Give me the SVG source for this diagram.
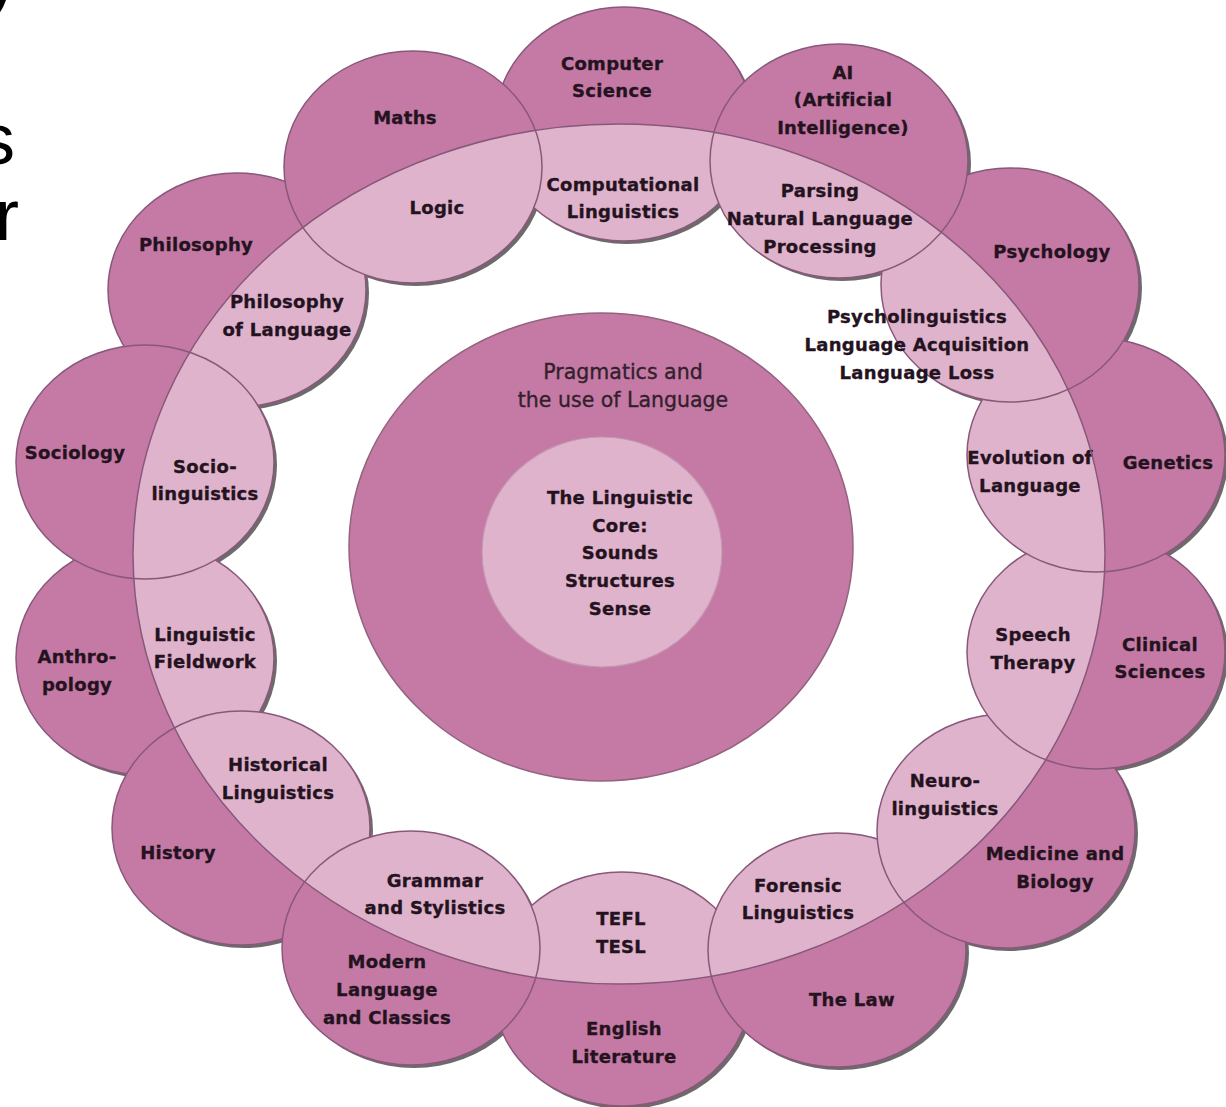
<svg xmlns="http://www.w3.org/2000/svg" xmlns:xlink="http://www.w3.org/1999/xlink" width="1226" height="1107" viewBox="0 0 1226 1107">
<style>
.dark{fill:#C47AA4}
.light{fill:#DFB3CB}
.edge{fill:none;stroke:#88587A;stroke-width:1.5}
.shadow{fill:#6e6a6c}
.lbl{font-family:"DejaVu Sans","Liberation Sans",sans-serif;font-weight:bold;font-size:18px;fill:#24131f;stroke:#24131f;stroke-width:0.35px;text-anchor:middle;letter-spacing:0.3px}
.prag{font-family:"DejaVu Sans","Liberation Sans",sans-serif;font-weight:normal;font-size:20.5px;fill:#33202c;stroke:#33202c;stroke-width:0.35px;text-anchor:middle}
.slide{font-family:"Liberation Sans","Open Sans",sans-serif;font-size:72px;fill:#000}
</style>
<defs>
<ellipse id="e-cs" cx="624" cy="124" rx="129" ry="117"/>
<ellipse id="e-ai" cx="839" cy="161" rx="129" ry="117"/>
<ellipse id="e-psy" cx="1010" cy="285" rx="129" ry="117"/>
<ellipse id="e-gen" cx="1096" cy="455" rx="129" ry="117"/>
<ellipse id="e-cli" cx="1096" cy="652" rx="129" ry="117"/>
<ellipse id="e-med" cx="1006" cy="831" rx="129" ry="117"/>
<ellipse id="e-law" cx="837" cy="950" rx="129" ry="117"/>
<ellipse id="e-eng" cx="622" cy="989" rx="129" ry="117"/>
<ellipse id="e-mod" cx="411" cy="948" rx="129" ry="117"/>
<ellipse id="e-his" cx="241" cy="828" rx="129" ry="117"/>
<ellipse id="e-ant" cx="145" cy="658" rx="129" ry="117"/>
<ellipse id="e-soc" cx="145" cy="462" rx="129" ry="117"/>
<ellipse id="e-phi" cx="237" cy="290" rx="129" ry="117"/>
<ellipse id="e-mat" cx="413" cy="167" rx="129" ry="116"/>
<clipPath id="band"><ellipse cx="619" cy="554" rx="486" ry="430"/></clipPath>
<clipPath id="petals">
<use href="#e-cs"/><use href="#e-ai"/><use href="#e-psy"/><use href="#e-gen"/><use href="#e-cli"/><use href="#e-med"/><use href="#e-law"/><use href="#e-eng"/><use href="#e-mod"/><use href="#e-his"/><use href="#e-ant"/><use href="#e-soc"/><use href="#e-phi"/><use href="#e-mat"/>
</clipPath>
</defs>
<rect width="1226" height="1107" fill="#ffffff"/>
<g id="slide-text">
<text class="slide" x="-16" y="2">y</text>
<text class="slide" x="-21" y="164">s</text>
<text class="slide" x="-5" y="240">r</text>
</g>
<g id="shadows" transform="translate(3,3)">
<use href="#e-cs" class="shadow"/><use href="#e-ai" class="shadow"/><use href="#e-psy" class="shadow"/><use href="#e-gen" class="shadow"/><use href="#e-cli" class="shadow"/><use href="#e-med" class="shadow"/><use href="#e-law" class="shadow"/><use href="#e-eng" class="shadow"/><use href="#e-mod" class="shadow"/><use href="#e-his" class="shadow"/><use href="#e-ant" class="shadow"/><use href="#e-soc" class="shadow"/><use href="#e-phi" class="shadow"/><use href="#e-mat" class="shadow"/>
</g>
<g id="english">
<use href="#e-eng" class="dark"/><use href="#e-eng" class="light" clip-path="url(#band)"/><use href="#e-eng" class="edge"/>
<text class="lbl" x="621" y="925">TEFL</text><text class="lbl" x="621" y="953">TESL</text>
<text class="lbl" x="624" y="1035">English</text><text class="lbl" x="624" y="1063">Literature</text>
</g>
<g id="law">
<use href="#e-law" class="dark"/><use href="#e-law" class="light" clip-path="url(#band)"/><use href="#e-law" class="edge"/>
<text class="lbl" x="798" y="892">Forensic</text><text class="lbl" x="798" y="919">Linguistics</text>
<text class="lbl" x="852" y="1006">The Law</text>
</g>
<g id="medicine">
<use href="#e-med" class="dark"/><use href="#e-med" class="light" clip-path="url(#band)"/><use href="#e-med" class="edge"/>
<text class="lbl" x="945" y="787">Neuro-</text><text class="lbl" x="945" y="815">linguistics</text>
<text class="lbl" x="1055" y="860">Medicine and</text><text class="lbl" x="1055" y="888">Biology</text>
</g>
<g id="clinical">
<use href="#e-cli" class="dark"/><use href="#e-cli" class="light" clip-path="url(#band)"/><use href="#e-cli" class="edge"/>
<text class="lbl" x="1033" y="641">Speech</text><text class="lbl" x="1033" y="669">Therapy</text>
<text class="lbl" x="1160" y="651">Clinical</text><text class="lbl" x="1160" y="678">Sciences</text>
</g>
<g id="genetics">
<use href="#e-gen" class="dark"/><use href="#e-gen" class="light" clip-path="url(#band)"/><use href="#e-gen" class="edge"/>
<text class="lbl" x="1030" y="464">Evolution of</text><text class="lbl" x="1030" y="492">Language</text>
<text class="lbl" x="1168" y="469">Genetics</text>
</g>
<g id="psychology">
<use href="#e-psy" class="dark"/><use href="#e-psy" class="light" clip-path="url(#band)"/><use href="#e-psy" class="edge"/>
<text class="lbl" x="1052" y="258">Psychology</text>
<text class="lbl" x="917" y="323">Psycholinguistics</text><text class="lbl" x="917" y="351">Language Acquisition</text><text class="lbl" x="917" y="379">Language Loss</text>
</g>
<g id="computer-science">
<use href="#e-cs" class="dark"/><use href="#e-cs" class="light" clip-path="url(#band)"/><use href="#e-cs" class="edge"/>
<text class="lbl" x="612" y="70">Computer</text><text class="lbl" x="612" y="97">Science</text>
<text class="lbl" x="623" y="191">Computational</text><text class="lbl" x="623" y="218">Linguistics</text>
</g>
<g id="ai">
<use href="#e-ai" class="dark"/><use href="#e-ai" class="light" clip-path="url(#band)"/><use href="#e-ai" class="edge"/>
<text class="lbl" x="843" y="79">AI</text><text class="lbl" x="843" y="106">(Artificial</text><text class="lbl" x="843" y="134">Intelligence)</text>
<text class="lbl" x="820" y="197">Parsing</text><text class="lbl" x="820" y="225">Natural Language</text><text class="lbl" x="820" y="253">Processing</text>
</g>
<g id="anthropology">
<use href="#e-ant" class="dark"/><use href="#e-ant" class="light" clip-path="url(#band)"/><use href="#e-ant" class="edge"/>
<text class="lbl" x="77" y="663">Anthro-</text><text class="lbl" x="77" y="691">pology</text>
<text class="lbl" x="205" y="641">Linguistic</text><text class="lbl" x="205" y="668">Fieldwork</text>
</g>
<g id="history">
<use href="#e-his" class="dark"/><use href="#e-his" class="light" clip-path="url(#band)"/><use href="#e-his" class="edge"/>
<text class="lbl" x="278" y="771">Historical</text><text class="lbl" x="278" y="799">Linguistics</text>
<text class="lbl" x="178" y="859">History</text>
</g>
<g id="modern-language">
<use href="#e-mod" class="dark"/><use href="#e-mod" class="light" clip-path="url(#band)"/><use href="#e-mod" class="edge"/>
<text class="lbl" x="435" y="887">Grammar</text><text class="lbl" x="435" y="914">and Stylistics</text>
<text class="lbl" x="387" y="968">Modern</text><text class="lbl" x="387" y="996">Language</text><text class="lbl" x="387" y="1024">and Classics</text>
</g>
<g id="philosophy">
<use href="#e-phi" class="dark"/><use href="#e-phi" class="light" clip-path="url(#band)"/><use href="#e-phi" class="edge"/>
<text class="lbl" x="196" y="251">Philosophy</text>
<text class="lbl" x="287" y="308">Philosophy</text><text class="lbl" x="287" y="336">of Language</text>
</g>
<g id="sociology">
<use href="#e-soc" class="dark"/><use href="#e-soc" class="light" clip-path="url(#band)"/><use href="#e-soc" class="edge"/>
<text class="lbl" x="75" y="459">Sociology</text>
<text class="lbl" x="205" y="473">Socio-</text><text class="lbl" x="205" y="500">linguistics</text>
</g>
<g id="maths">
<use href="#e-mat" class="dark"/><use href="#e-mat" class="light" clip-path="url(#band)"/><use href="#e-mat" class="edge"/>
<text class="lbl" x="405" y="124">Maths</text>
<text class="lbl" x="437" y="214">Logic</text>
</g>
<g id="band-line">
<ellipse cx="619" cy="554" rx="486" ry="430" class="edge" clip-path="url(#petals)"/>
</g>
<g id="pragmatics">
<ellipse cx="601" cy="547" rx="252" ry="234" class="dark" stroke="#93637f" stroke-width="1.5"/>
<text class="prag" x="623" y="379">Pragmatics and</text><text class="prag" x="623" y="407">the use of Language</text>
</g>
<g id="linguistic-core">
<ellipse cx="602" cy="552" rx="120" ry="115" class="light" stroke="#c496b0" stroke-width="1.2"/>
<text class="lbl" x="620" y="504">The Linguistic</text><text class="lbl" x="620" y="532">Core:</text><text class="lbl" x="620" y="559">Sounds</text><text class="lbl" x="620" y="587">Structures</text><text class="lbl" x="620" y="615">Sense</text>
</g>
</svg>
